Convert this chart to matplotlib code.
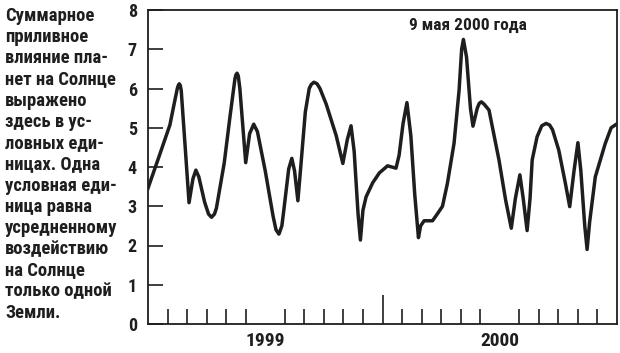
import matplotlib
matplotlib.use("Agg")
import matplotlib.pyplot as plt

plt.rcParams['font.family'] = ['Roboto Condensed', 'PT Sans Narrow', 'DejaVu Sans']

# month since 1 Jan 1999, value in conventional units
months = [0.0, 0.56, 1.12, 1.38, 1.5, 1.55, 1.6, 1.65, 1.7, 1.89, 2.1, 2.3, 2.45,
          2.6, 2.9, 3.1, 3.25, 3.4, 3.5, 3.9, 4.2, 4.45, 4.5, 4.56, 4.62, 4.7,
          5.0, 5.2, 5.41, 5.6, 6.0, 6.4, 6.55, 6.7, 6.85, 6.95, 7.2, 7.36, 7.5,
          7.67, 7.85, 8.05, 8.25, 8.35, 8.49, 8.65, 8.8, 9.12, 9.63, 9.97, 10.2,
          10.39, 10.55, 10.75, 10.87, 11.0, 11.16, 11.5, 11.84, 12.26, 12.69,
          12.85, 13.05, 13.25, 13.45, 13.65, 13.84, 13.95, 14.13, 14.56, 14.8,
          15.07, 15.32, 15.66, 15.92, 16.05, 16.14, 16.3, 16.5, 16.63, 16.85,
          16.95, 17.06, 17.2, 17.45, 17.96, 18.3, 18.59, 18.8, 19.03, 19.2,
          19.4, 19.55, 19.66, 19.91, 20.15, 20.37, 20.55, 20.7, 21.02, 21.36,
          21.58, 21.8, 22.0, 22.15, 22.35, 22.47, 22.6, 22.89, 23.4, 23.7, 24.0]
values = [3.46, 4.26, 5.07, 5.71, 6.0, 6.08, 6.12, 6.08, 5.95, 4.6, 3.09, 3.7, 3.92,
          3.75, 3.1, 2.8, 2.72, 2.8, 2.95, 4.1, 5.3, 6.25, 6.35, 6.39, 6.32, 6.0,
          4.11, 4.85, 5.09, 4.9, 3.9, 2.75, 2.4, 2.29, 2.5, 2.9, 3.95, 4.22, 3.9,
          3.14, 4.2, 5.4, 6.0, 6.1, 6.16, 6.12, 6.0, 5.6, 4.8, 4.09, 4.7,
          5.05, 4.4, 2.8, 2.14, 2.9, 3.24, 3.6, 3.85, 4.03, 3.97,
          4.3, 5.1, 5.64, 4.8, 3.3, 2.2, 2.5, 2.63, 2.63, 2.8,
          3.0, 3.58, 4.6, 5.96, 7.0, 7.25, 6.8, 5.5, 5.04, 5.5,
          5.62, 5.66, 5.6, 5.45, 4.18, 3.16, 2.44, 3.2, 3.8, 3.2,
          2.38, 3.2, 4.18, 4.77, 5.05, 5.11, 5.07, 4.95, 4.43, 3.58,
          2.99, 3.9, 4.62, 3.9, 2.5, 1.9, 2.6, 3.75, 4.6, 5.0, 5.1]

year_labels = ["1999", "2000"]
peak_label = "9 мая 2000 года"
side_text = ["Суммарное", "приливное", "влияние пла-", "нет на Солнце",
             "выражено", "здесь в ус-", "ловных еди-", "ницах. Одна",
             "условная еди-", "ница равна", "усредненному", "воздействию",
             "на Солнце", "только одной", "Земли."]

ink = '#1e1e1e'
fig = plt.figure(figsize=(6.2, 3.53), dpi=100)
ax = fig.add_axes([148/620, 1 - 324/353, 469/620, 314/353])

ax.plot(months, values, color=ink, linewidth=2.5, solid_joinstyle='round')
ax.set_xlim(0, 24)
ax.set_ylim(0, 8)

for s in ax.spines.values():
    s.set_linewidth(1.3)
    s.set_color(ink)

ax.set_yticks(range(0, 9))
ax.tick_params(axis='y', direction='in', length=11, width=1.2, pad=8,
               labelsize=13, colors=ink)
for t in ax.get_yticklabels():
    t.set_fontweight('bold')

ax.set_xticks([6, 18])
ax.set_xticklabels(year_labels, fontsize=14, fontweight='bold')
ax.tick_params(axis='x', which='major', length=0, pad=6, colors=ink)
ax.set_xticks([m for m in range(1, 24) if m != 12], minor=True)
ax.tick_params(axis='x', which='minor', direction='in', length=11, width=1.2,
               colors=ink)

sec = ax.secondary_xaxis('bottom')
sec.set_xticks([12])
sec.set_xticklabels([''])
sec.tick_params(direction='in', length=21, width=1.2, colors=ink)
sec.spines['bottom'].set_visible(False)

ax.text(16.35, 7.6, peak_label, ha='center', va='center', fontsize=12.5,
        fontweight='bold', color=ink)

top = 16
for i, line in enumerate(side_text):
    fig.text(5/620, 1 - (top + i*21.2)/353, line, ha='left', va='center',
             fontsize=13.4, fontweight='bold', color=ink)

fig.savefig('out.png', dpi=100)
